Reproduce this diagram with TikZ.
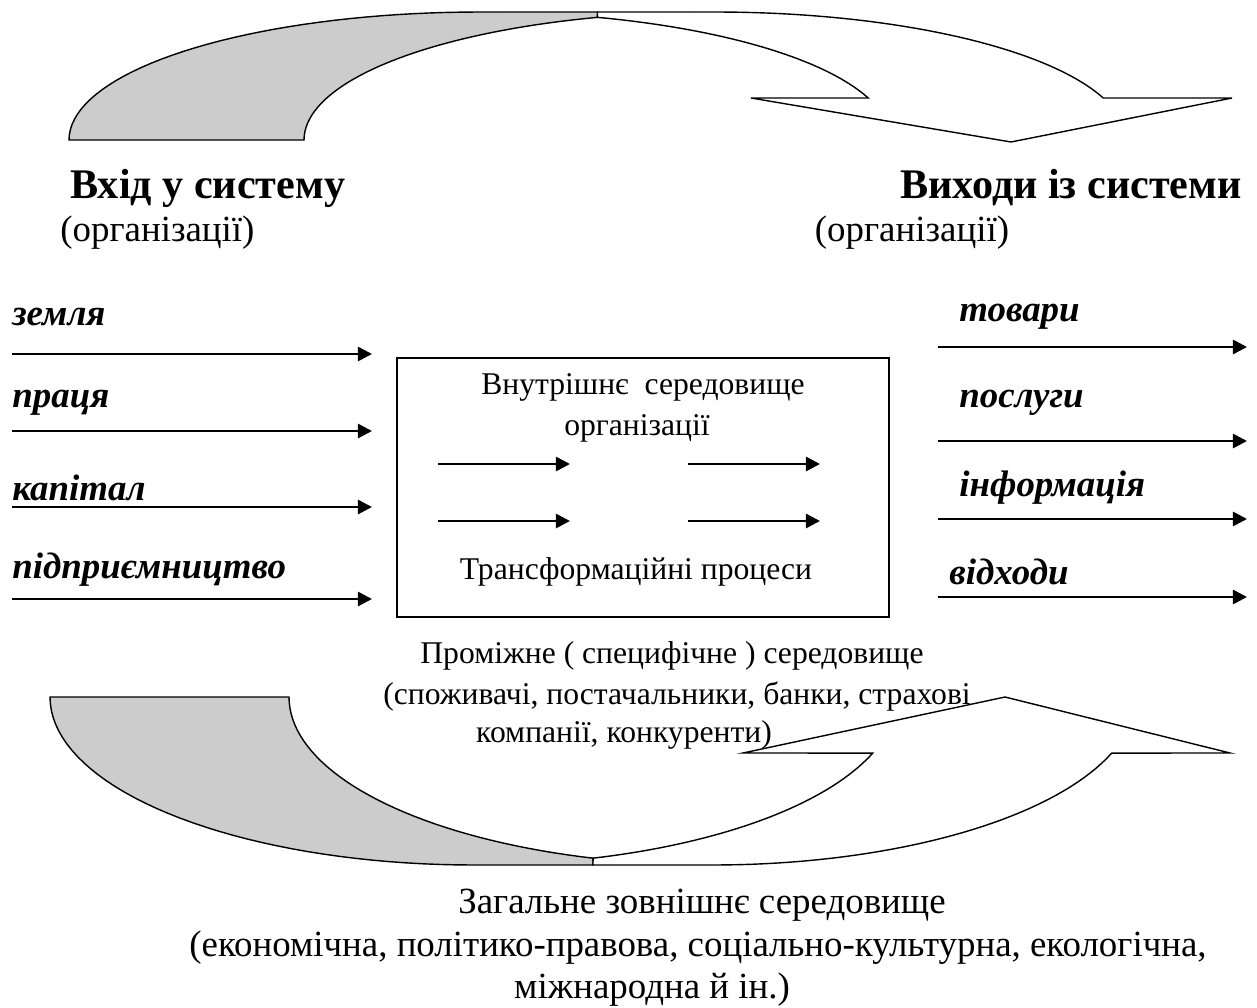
\documentclass[tikz,border=0pt]{standalone}
\usepackage{fontspec}
\setmainfont{Liberation Serif}
\usetikzlibrary{arrows.meta}
\definecolor{backgrey}{gray}{0.8}

\begin{document}
\begin{tikzpicture}[x=0.02cm, y=-0.02cm, >={Triangle[length=8pt, width=8pt]}, line join=miter]
    \tikzset{flow/.style={->, line width=1.5pt},
        band/.style={draw, line width=0.8pt, fill=backgrey},
        body/.style={draw, line width=0.8pt, fill=white},
        head/.style={inner sep=0pt, font=\bfseries\fontsize{24}{28}\selectfont},
        sub/.style={inner sep=0pt, font=\fontsize{21}{25}\selectfont},
        factor/.style={inner sep=0pt, anchor=west, font=\bfseries\itshape\fontsize{21}{25}\selectfont},
        plain/.style={inner sep=0pt, font=\fontsize{18}{22}\selectfont},
        wide/.style={inner sep=0pt, font=\fontsize{21}{25}\selectfont}};
    \useasboundingbox (0,0) rectangle (1257,1007);
    % Top arrow
    \filldraw[band] plot[domain=180:90, samples=40] ({480+411*cos(\x)}, {140-128*sin(\x)})
        -- (597.5,12) -- plot[domain=106.6:180, samples=40] ({715+411*cos(\x)}, {140-128*sin(\x)}) -- cycle;
    \filldraw[body] plot[domain=73.4:19.15, samples=40] ({480+411*cos(\x)}, {140-128*sin(\x)})
        -- (751,98) -- (1011,142) -- (1232,98)
        -- plot[domain=19.15:90, samples=40] ({715+411*cos(\x)}, {140-128*sin(\x)}) -- (597.5,12) -- cycle;
    % Bottom arrow
    \filldraw[band] plot[domain=180:90, samples=40] ({473.5+423.5*cos(\x)}, {697+168*sin(\x)})
        -- (593,865) -- plot[domain=106.4:180, samples=40] ({712.5+423.5*cos(\x)}, {697+168*sin(\x)}) -- cycle;
    \filldraw[body] plot[domain=73.6:19.5, samples=40] ({473.5+423.5*cos(\x)}, {697+168*sin(\x)})
        -- (743,753) -- (1005,697) -- (1230,753)
        -- plot[domain=19.5:90, samples=40] ({712.5+423.5*cos(\x)}, {697+168*sin(\x)}) -- (593,865) -- cycle;
    % Headings
    \node[head, anchor=west] (entry) at (70,188) {Вхід у систему};
    \node[sub, anchor=west] (entryorg) at (60,233) {(організації)};
    \node[head, anchor=east] (exit) at (1242,188) {Виходи із системи};
    \node[sub] (exitorg) at (912,233) {(організації)};
    % Inputs
    \foreach \lbl/\ty/\ay [count=\i] in {земля/317/354, праця/403/431, капітал/488/507, підприємництво/570/599}{
        \node[factor] (in\i) at (12,\ty) {\lbl};
        \coordinate (in\i s) at (12,\ay);
        \coordinate (in\i e) at (372,\ay);
        \draw[flow] (in\i s) -- (in\i e);
    }
    % Organisation
    \node[draw, line width=0.8pt, minimum width=9.84cm, minimum height=5.18cm] (core) at (643,487.5) {};
    \node[plain] (inner) at (643,387) {Внутрішнє\ \ середовище};
    \node[plain] (innerorg) at (637,428) {організації};
    \node[plain] (transform) at (636,572) {Трансформаційні процеси};
    \foreach \xa in {438, 688}{
        \foreach \y in {464, 521}{
            \coordinate (p\xa s\y) at (\xa,\y);
            \coordinate (p\xa e\y) at (\xa+132,\y);
            \draw[flow] (p\xa s\y) -- (p\xa e\y);
        }
    }
    % Outputs
    \foreach \lbl/\lx/\ty/\ay [count=\i] in {товари/959/317/347, послуги/959/403/441, інформація/959/488/519, відходи/949/572/597}{
        \node[factor] (out\i) at (\lx,\ty) {\lbl};
        \coordinate (out\i s) at (938,\ay);
        \coordinate (out\i e) at (1247,\ay);
        \draw[flow] (out\i s) -- (out\i e);
    }
    % Environments
    \node[plain] (mid1) at (672,656) {Проміжне ( специфічне ) середовище};
    \node[plain] (mid2) at (677,697) {(споживачі, постачальники, банки, страхові};
    \node[plain] (mid3) at (624,735) {компанії, конкуренти)};
    \node[wide] (gen1) at (702,905) {Загальне зовнішнє середовище};
    \node[wide] (gen2) at (698,948) {(економічна, політико-правова, соціально-культурна, екологічна,};
    \node[wide] (gen3) at (652,990) {міжнародна й ін.)};
\end{tikzpicture}
\end{document}
